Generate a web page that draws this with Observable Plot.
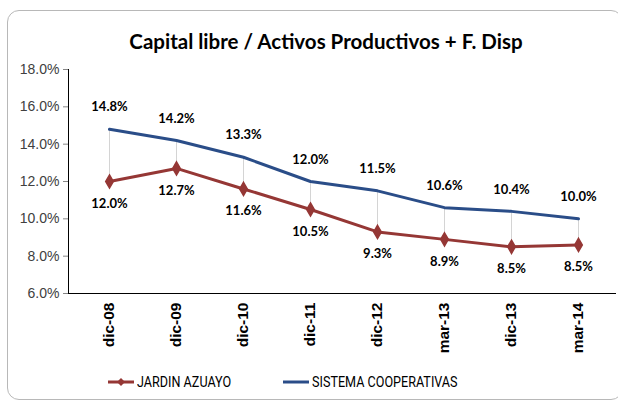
<!DOCTYPE html>
<html>
<head>
<meta charset="utf-8">
<script src="https://cdn.jsdelivr.net/npm/d3@7"></script>
<script src="https://cdn.jsdelivr.net/npm/@observablehq/plot@0.6"></script>
<style>
  html, body { margin: 0; padding: 0; background: #fff; }
  #wrap { position: relative; width: 618px; height: 403px; overflow: hidden; font-family: "Liberation Sans", Arial, sans-serif; }
  #border { position: absolute; left: 7px; top: 10px; width: 616px; height: 390px; border: 1px solid #b8b8b8; border-radius: 12px; box-sizing: border-box; }
  #title { position: absolute; left: 0; width: 652px; top: 29px; text-align: center; font-family: Lato, "Open Sans", sans-serif; font-weight: bold; font-size: 20.5px; color: #000; }
  #chart { position: absolute; left: 0; top: 0; }
  #legend { position: absolute; top: 373px; left: 108px; display: flex; align-items: center; font-family: Roboto, "Liberation Sans", sans-serif; font-size: 15px; color: #000; }
  #legend .item { display: flex; align-items: center; }
  #legend .item span { display: inline-block; transform: scaleX(0.84); transform-origin: left center; }
  #legend svg { margin-right: 3px; }
  [aria-label^="x-axis"] text { font-weight: bold; font-size: 15.5px; fill: #000; }
  [aria-label^="y-axis"] text { fill: #404040; font-size: 14px; }
  [aria-label^="x-axis"] path, [aria-label^="x-axis"] line, [aria-label^="y-axis"] path, [aria-label^="y-axis"] line { stroke: #868686; }
</style>
</head>
<body>
<div id="wrap">
  <div id="border"></div>
  <div id="chart"></div>
  <div id="title">Capital libre / Activos Productivos + F. Disp</div>
  <div id="legend"></div>
</div>
<script>
const categories = ["dic-08", "dic-09", "dic-10", "dic-11", "dic-12", "mar-13", "dic-13", "mar-14"];
const jardinAzuayo = [12.0, 12.7, 11.6, 10.5, 9.3, 8.9, 8.5, 8.6];
const jardinLabels = ["12.0%", "12.7%", "11.6%", "10.5%", "9.3%", "8.9%", "8.5%", "8.5%"];
const sistemaCoop = [14.8, 14.2, 13.3, 12.0, 11.5, 10.6, 10.4, 10.0];
const sistemaLabels = ["14.8%", "14.2%", "13.3%", "12.0%", "11.5%", "10.6%", "10.4%", "10.0%"];
const yTicks = [6, 8, 10, 12, 14, 16, 18];
const seriesNames = ["JARDIN AZUAYO", "SISTEMA COOPERATIVAS"];
const colors = ["#953735", "#2A4D88"];

const rows = categories.map((c, i) => ({cat: c, j: jardinAzuayo[i], s: sistemaCoop[i], jl: jardinLabels[i], sl: sistemaLabels[i]}));

const chart = Plot.plot({
  width: 618,
  height: 365,
  marginTop: 69,
  marginBottom: 72,
  marginLeft: 68,
  marginRight: 3,
  style: {background: "transparent", fontFamily: "'Liberation Sans', Arial, sans-serif", fontSize: "14px", overflow: "visible"},
  x: {type: "point", domain: categories, padding: 0.5, insetLeft: 4, label: null, tickSize: 0, tickRotate: -90, tickPadding: 9, line: true},
  y: {domain: [6, 18], ticks: yTicks, tickFormat: d => d.toFixed(1) + "%", tickSize: 5, tickPadding: 4, label: null, line: true},
  marks: [
    Plot.link(rows, {x1: "cat", x2: "cat", y1: "j", y2: "s", stroke: "#d4d4d4", strokeWidth: 1}),
    Plot.line(rows, {x: "cat", y: "s", stroke: colors[1], strokeWidth: 3}),
    Plot.line(rows, {x: "cat", y: "j", stroke: colors[0], strokeWidth: 3}),
    Plot.dot(rows, {x: "cat", y: "j", symbol: "diamond", r: 4, fill: colors[0], stroke: colors[0]}),
    Plot.text(rows, {x: "cat", y: "s", text: "sl", dy: -22, fontWeight: "bold", fontSize: 13, fill: "#000", fontFamily: "Lato, sans-serif"}),
    Plot.text(rows, {x: "cat", y: "j", text: "jl", dy: 22, fontWeight: "bold", fontSize: 13, fill: "#000", fontFamily: "Lato, sans-serif"})
  ]
});
document.getElementById("chart").appendChild(chart);

const legend = document.getElementById("legend");
const itemWidths = [175, 260];
seriesNames.forEach((name, i) => {
  const item = document.createElement("div");
  item.className = "item";
  item.style.width = itemWidths[i] + "px";
  const marker = i === 0
    ? `<svg width="26" height="12"><line x1="0" y1="6" x2="26" y2="6" stroke="${colors[i]}" stroke-width="3"/><path d="M13 2 L17 6 L13 10 L9 6 Z" fill="${colors[i]}"/></svg>`
    : `<svg width="26" height="12"><line x1="0" y1="6" x2="26" y2="6" stroke="${colors[i]}" stroke-width="3"/></svg>`;
  item.innerHTML = marker + `<span>${name}</span>`;
  legend.appendChild(item);
});
</script>
</body>
</html>
